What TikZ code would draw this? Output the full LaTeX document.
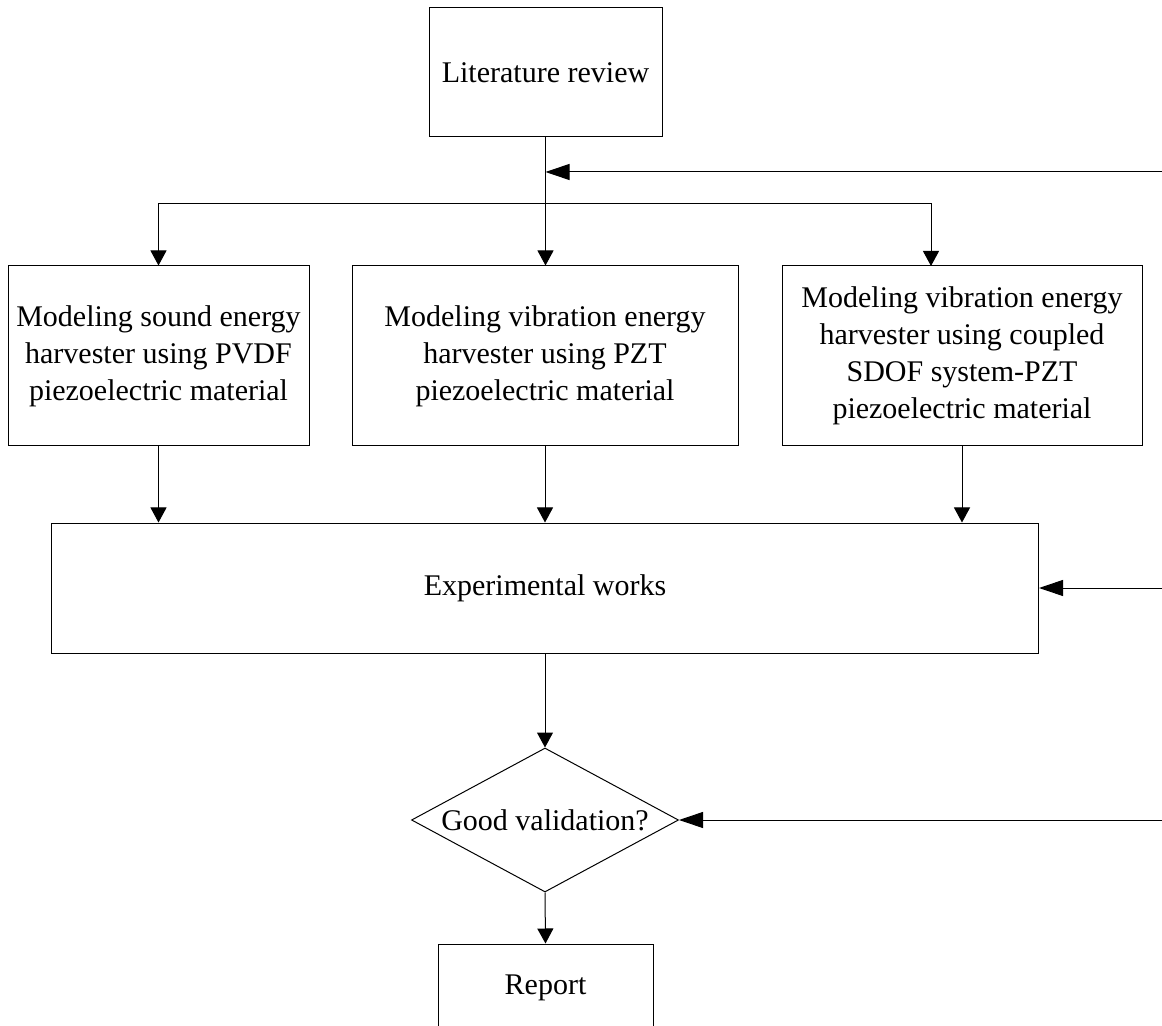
\documentclass[tikz,border=0pt]{standalone}
\usepackage{fontspec}
\setmainfont{Liberation Serif}
\usepackage{tikz}
\usetikzlibrary{arrows.meta,positioning,shapes.geometric}

\begin{document}
\begin{tikzpicture}[x=0.5pt,y=-0.5pt,line width=0.5pt,
   every node/.style={font=\fontsize{15}{18.5}\selectfont},
   stagebox/.style={draw,inner sep=0pt,align=center},
   decision/.style={draw,diamond,aspect=1.85,inner sep=0pt,
                    minimum width=133.5pt,minimum height=72pt},
   down/.style={-{Triangle[length=7.5pt,width=8pt]}},
   back/.style={-{Triangle[length=12pt,width=8pt]}}]
 \clip (0,0) rectangle (1162,1026);

 % stages of the work
 \node[stagebox,minimum width=116.5pt,minimum height=64.5pt] (lit) at (545.5,72.5)
   {Literature review};
 \node[stagebox,minimum width=150.5pt,minimum height=90pt] (sound) at (158.5,356)
   {Modeling sound energy\\harvester using PVDF\\piezoelectric material};
 \node[stagebox,minimum width=193pt,minimum height=90pt] (vib) at (545,356)
   {Modeling vibration energy\\harvester using PZT\\piezoelectric material};
 \node[stagebox,minimum width=180pt,minimum height=90pt] (sdof) at (962,356)
   {Modeling vibration energy\\harvester using coupled\\SDOF system-PZT\\piezoelectric material};
 \node[stagebox,minimum width=493.5pt,minimum height=65pt] (exper) at (545,588)
   {Experimental works};
 \node[decision] (valid) at (545,820) {Good validation?};
 \node[stagebox,minimum width=107.5pt,minimum height=44pt] (report) at (545.5,988)
   {Report};

 \coordinate (split) at (545,204);
 \coordinate (sdoftop) at (931,266);
 \coordinate (fbtop) at (1162,172);
 \coordinate (fbmid) at (1162,588);
 \coordinate (fblow) at (1162,820);

 % connectors
 \draw[down] (lit.south) -- (lit.south |- vib.north);
 \draw[down] (split) -| (sound.north);
 \draw[down] (split) -| (sdoftop);
 \draw[down] (sound.south) -- (sound.south |- exper.north);
 \draw[down] (vib.south) -- (vib.south |- exper.north);
 \draw[down] (sdof.south) -- (sdof.south |- exper.north);
 \draw[down] (exper.south) -- (valid.north);
 \draw[down] (valid.south) -- (report.north);

 % feedback from the right
 \draw[back] (fbtop) -- (lit.south |- fbtop);
 \draw[back] (fbmid) -- (exper.east);
 \draw[back] (fblow) -- (valid.east);
\end{tikzpicture}
\end{document}
